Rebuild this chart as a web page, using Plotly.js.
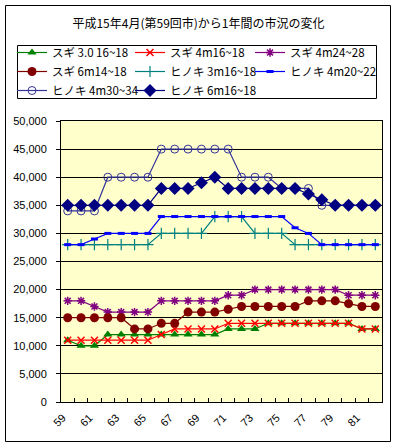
<!DOCTYPE html>
<html>
<head>
<meta charset="utf-8">
<script src="https://cdn.plot.ly/plotly-3.0.1.min.js"></script>
<style>
html,body{margin:0;padding:0;background:#fff;}
#chart{width:397px;height:448px;}
</style>
</head>
<body>
<div id="chart"></div>
<script>
// categories (市 number)
const categories = [59,60,61,62,63,64,65,66,67,68,69,70,71,72,73,74,75,76,77,78,79,80,81,82];
const tickValues = [59,61,63,65,67,69,71,73,75,77,79,81];
const tickLabels = ['59','61','63','65','67','69','71','73','75','77','79','81'];

const seriesNames = [
  'スギ 3.0 16~18','スギ 4m16~18','スギ 4m24~28',
  'スギ 6m14~18','ヒノキ 3m16~18','ヒノキ 4m20~22',
  'ヒノキ 4m30~34','ヒノキ 6m16~18'
];

const sugi30_16_18 = [11000,10000,10000,12000,12000,12000,12000,12000,12000,12000,12000,12000,13000,13000,13000,14000,14000,14000,14000,14000,14000,14000,13000,13000];
const sugi4_16_18  = [11000,11000,11000,11000,11000,11000,11000,12000,13000,13000,13000,13000,14000,14000,14000,14000,14000,14000,14000,14000,14000,14000,13000,13000];
const sugi4_24_28  = [18000,18000,17000,16000,16000,16000,16000,18000,18000,18000,18000,18000,19000,19000,20000,20000,20000,20000,20000,20000,20000,19000,19000,19000];
const sugi6_14_18  = [15000,15000,15000,15000,15000,13000,13000,14000,14000,16000,16000,16000,16500,17000,17000,17000,17000,17000,18000,18000,18000,17500,17000,17000];
const hinoki3_16_18 = [28000,28000,28000,28000,28000,28000,28000,30000,30000,30000,30000,33000,33000,33000,30000,30000,30000,28000,28000,28000,28000,28000,28000,28000];
const hinoki4_20_22 = [28000,28000,29000,30000,30000,30000,30000,33000,33000,33000,33000,33000,33000,33000,33000,33000,33000,31000,30000,28000,28000,28000,28000,28000];
const hinoki4_30_34 = [34000,34000,34000,40000,40000,40000,40000,45000,45000,45000,45000,45000,45000,40000,40000,40000,38000,38000,38000,35000,35000,35000,35000,35000];
const hinoki6_16_18 = [35000,35000,35000,35000,35000,35000,35000,38000,38000,38000,39000,40000,38000,38000,38000,38000,38000,38000,37000,36000,35000,35000,35000,35000];

const seriesValues = [sugi30_16_18, sugi4_16_18, sugi4_24_28, sugi6_14_18, hinoki3_16_18, hinoki4_20_22, hinoki4_30_34, hinoki6_16_18];
// legend column of each series (3 columns, row-major like the reference)
const legendCols = ['legend','legend2','legend3','legend','legend2','legend3','legend','legend2'];

const styles = [
  {color:'#008000', marker:{symbol:'triangle-up', size:8, color:'#008000'}},
  {color:'#FF0000', marker:{symbol:'x-thin-open', size:7, color:'#FF0000', line:{color:'#FF0000', width:1.5}}},
  {color:'#800080', marker:{symbol:'asterisk-open', size:7, color:'#800080', line:{color:'#800080', width:1.5}}},
  {color:'#800000', marker:{symbol:'circle', size:9, color:'#800000'}},
  {color:'#008080', marker:{symbol:'cross-thin-open', size:8, color:'#008080', line:{color:'#008080', width:1.2}}},
  {color:'#0000FF', marker:{symbol:'line-ew-open', size:5, color:'#0000FF', line:{color:'#0000FF', width:3}}},
  {color:'#333399', marker:{symbol:'circle-open', size:8, color:'#333399', line:{color:'#333399', width:1}}},
  {color:'#000080', marker:{symbol:'diamond', size:10, color:'#000080'}}
];

const fontFam = 'Liberation Sans, Arial, Noto Sans CJK JP, sans-serif';
const jpFam = 'Noto Sans CJK JP, sans-serif';

const traces = seriesNames.map((n,i)=>({
  type:'scatter', mode:'lines+markers', name:n, legend:legendCols[i],
  x:categories, y:seriesValues[i],
  line:{color:styles[i].color, width:1.2},
  marker:styles[i].marker
}));
// boundary tick marks between categories (helper axis only)
const boundaries = categories.map(c=>c-0.5).concat([categories[categories.length-1]+0.5]);
traces.push({type:'scatter', mode:'markers', x:[categories[0]], y:[null], xaxis:'x2', yaxis:'y', showlegend:false, hoverinfo:'skip'});

const L=61, R=382, T=121, B=402;
const W=397, H=448;
const px = v => (v-L)/(R-L);
const py = v => (B-v)/(B-T);

const legendBase = {orientation:'v', xref:'container', yref:'container', y:1-38/H, xanchor:'left', yanchor:'top',
  borderwidth:0, bgcolor:'rgba(0,0,0,0)', font:{family:jpFam, size:11.5, color:'#000'}, tracegroupgap:0, itemwidth:30};

const layout = {
  width:W, height:H,
  margin:{l:L, r:W-R, t:T, b:H-B, pad:0, autoexpand:false},
  paper_bgcolor:'#FFFFFF',
  plot_bgcolor:'#FFFFCC',
  font:{family:fontFam, size:11, color:'#000'},
  title:{text:'平成15年4月(第59回市)から1年間の市況の変化', font:{family:jpFam, size:12, color:'#000'},
         x:0.5, xref:'container', y:1-24/H, yref:'container', xanchor:'center', yanchor:'middle'},
  showlegend:true,
  legend:Object.assign({}, legendBase, {x:12/W}),
  legend2:Object.assign({}, legendBase, {x:130/W}),
  legend3:Object.assign({}, legendBase, {x:250/W}),
  xaxis:{range:[58.5,82.5], tickmode:'array', tickvals:tickValues, ticktext:tickLabels,
         tickangle:-45, ticks:'', showgrid:false, zeroline:false,
         showline:true, linecolor:'#000', linewidth:1, mirror:true,
         ticklabelshift:-5, ticklabelstandoff:4,
         tickfont:{family:fontFam, size:11, color:'#000'}},
  xaxis2:{overlaying:'x', range:[58.5,82.5], tickmode:'array', tickvals:boundaries,
          ticks:'inside', ticklen:4, tickcolor:'#000', showticklabels:false, showgrid:false, zeroline:false, showline:false},
  yaxis:{range:[0,50000], dtick:5000, tick0:0, tickformat:',d', ticks:'outside', ticklen:4, tickcolor:'#000',
         showgrid:true, gridcolor:'#000', gridwidth:1, zeroline:false,
         showline:true, linecolor:'#000', linewidth:1, mirror:true,
         ticklabelstandoff:7,
         tickfont:{family:fontFam, size:11, color:'#000'}},
  shapes:[
    {type:'rect', xref:'paper', yref:'paper', x0:px(5.5), x1:px(390.5), y0:py(441.5), y1:py(5.5),
     line:{color:'#000', width:1}, fillcolor:'rgba(0,0,0,0)', layer:'below'},
    {type:'rect', xref:'paper', yref:'paper', x0:px(17.5), x1:px(376.5), y0:py(98.5), y1:py(45.5),
     line:{color:'#000', width:1}, fillcolor:'rgba(0,0,0,0)', layer:'below'}
  ]
};

Plotly.newPlot('chart', traces, layout, {displayModeBar:false});
</script>
</body>
</html>
